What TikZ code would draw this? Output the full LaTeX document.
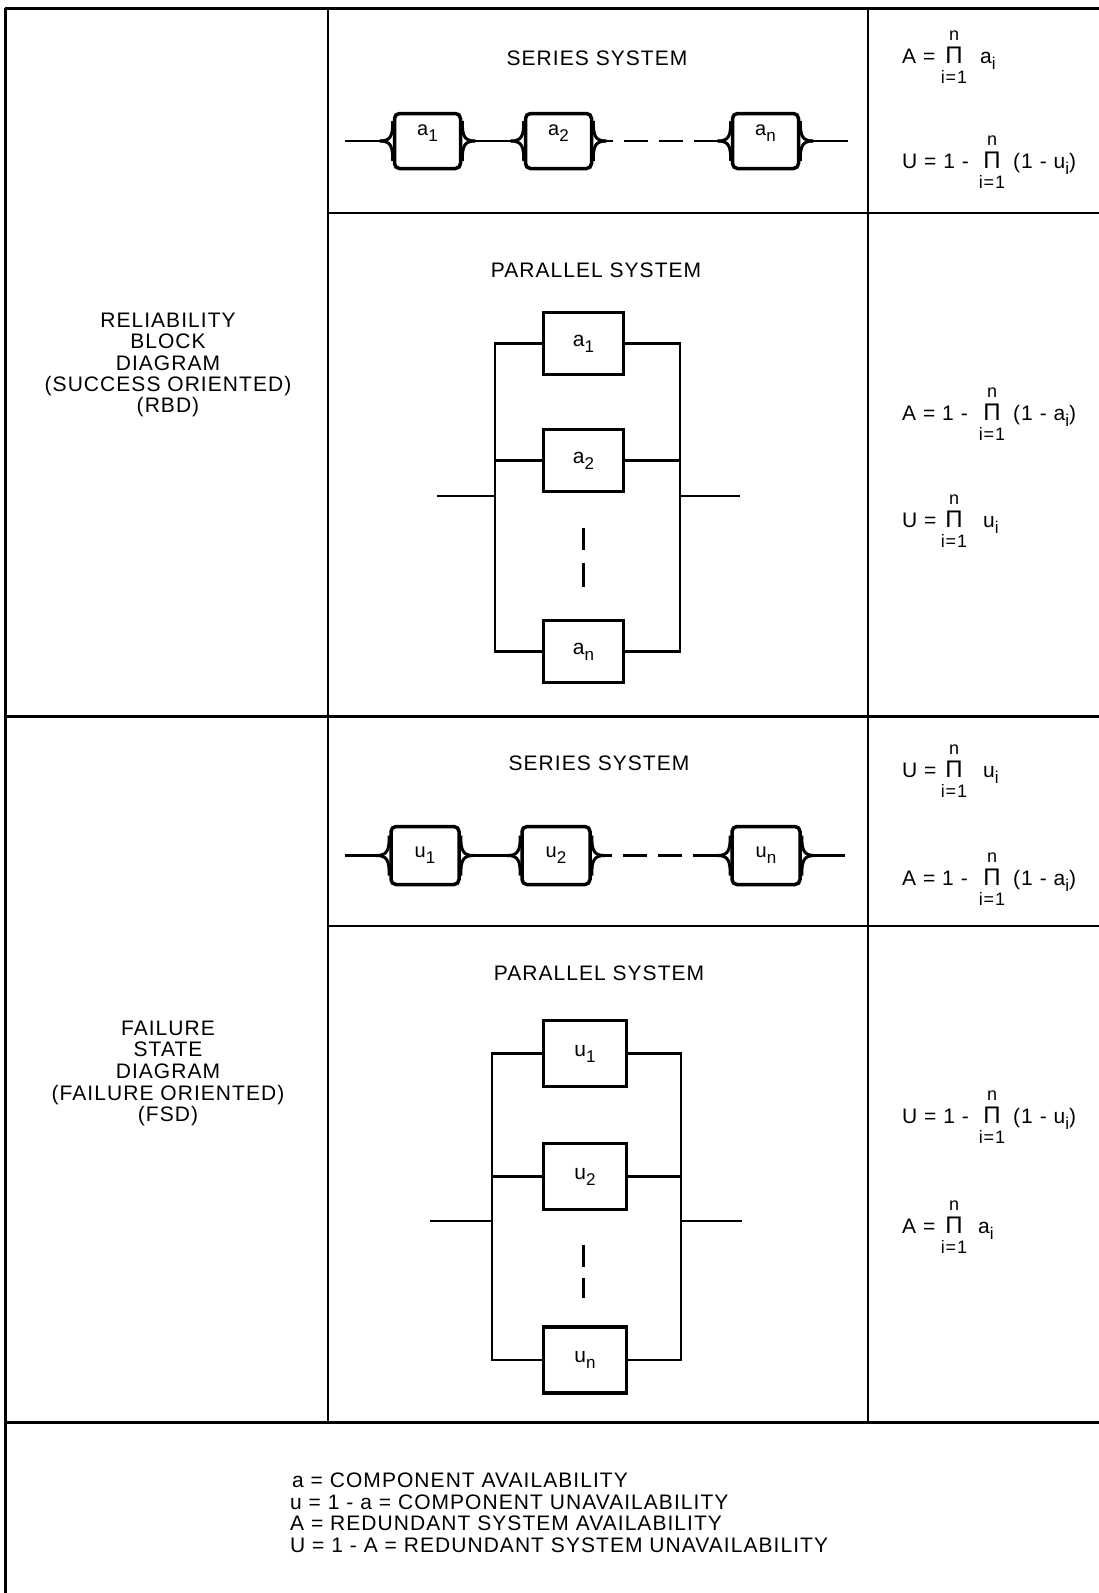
\documentclass[tikz,border=0pt]{standalone}
\usepackage{fontspec}
\setmainfont{Liberation Sans}[LetterSpace=5]
\usetikzlibrary{calc}
\newcommand\sz[1]{\fontsize{#1}{#1}\selectfont}
\newcommand\lo[1]{\raisebox{-6pt}{\sz{17}#1}}
\newcommand\flares[1]{%
  \draw[flare] ($(#1.west)+(-13,0)$) .. controls ($(#1.west)+(-2,0)$) and ($(#1.west)+(0,-5)$) .. ($(#1.west)+(0,-20)$);
  \draw[flare] ($(#1.west)+(-13,0)$) .. controls ($(#1.west)+(-2,0)$) and ($(#1.west)+(0,5)$) .. ($(#1.west)+(0,20)$);
  \draw[flare] ($(#1.east)+(13,0)$) .. controls ($(#1.east)+(2,0)$) and ($(#1.east)+(0,-5)$) .. ($(#1.east)+(0,-20)$);
  \draw[flare] ($(#1.east)+(13,0)$) .. controls ($(#1.east)+(2,0)$) and ($(#1.east)+(0,5)$) .. ($(#1.east)+(0,20)$);
}
% #1 name, #2 Pi centre x, #3 suffix x, #4 baseline y, #5 prefix, #6 suffix
\newcommand\fml[6]{%
  \node[ft, anchor=base west] (#1-p) at (902,#4) {#5};
  \node[pit, anchor=base] (#1-P) at (#2,#4) {Π};
  \node[lt, anchor=base] (#1-n) at ($(#1-P.base)+(0,-23)$) {n};
  \node[lt, anchor=base] (#1-i) at ($(#1-P.base)+(0,20)$) {i=1};
  \node[ft, anchor=base west] (#1-s) at (#3,#4) {#6};
}
\tikzset{
  frame/.style={line width=3pt},
  grid/.style={line width=2.5pt},
  txt/.style={inner sep=0pt, font=\sz{21}},
  ft/.style={inner sep=0pt, font=\sz{21}},
  pit/.style={inner sep=0pt, font=\sz{24}},
  lt/.style={inner sep=0pt, font=\sz{18}},
  sbox/.style={draw, line width=3.5pt, rounded corners=5pt, minimum width=66pt,
    minimum height=55pt, inner sep=0pt, font=\sz{20}},
  ubox/.style={draw, line width=3.5pt, rounded corners=5pt, minimum width=68pt,
    minimum height=58pt, inner sep=0pt, font=\sz{20}},
  pbox/.style={draw, line width=3.5pt, minimum width=80pt, minimum height=62pt,
    inner sep=0pt, font=\sz{21}},
  qbox/.style={draw, line width=3.5pt, minimum width=83pt, minimum height=66pt,
    inner sep=0pt, font=\sz{21}},
  wire/.style={line width=2.5pt},
  flare/.style={line width=3pt},
  vdash/.style={line width=3pt},
}
\begin{document}
\begin{tikzpicture}[x=1pt,y=-1pt]
\fill[white] (0,0) rectangle (1099,1593);
\useasboundingbox (0,0) rectangle (1099,1593);

% ---------- table ----------
\draw[frame] (5,8) -- (1099,8);
\draw[frame] (5,8) -- (5,1593);
\draw[grid] (328,8) -- (328,1422);
\draw[grid] (868,8) -- (868,1422);
\draw[frame] (5,716) -- (1099,716);
\draw[frame] (5,1422) -- (1099,1422);
\draw[grid] (328,213) -- (1099,213);
\draw[grid] (328,926) -- (1099,926);

% ---------- left column ----------
\node[txt, anchor=base] (l1) at (168,327) {RELIABILITY};
\node[txt, anchor=base] (l2) at (168,348) {BLOCK};
\node[txt, anchor=base] (l3) at (168,370) {DIAGRAM};
\node[txt, anchor=base] (l4) at (168,391) {(SUCCESS ORIENTED)};
\node[txt, anchor=base] (l5) at (168,412) {(RBD)};
\node[txt, anchor=base] (m1) at (168,1035) {FAILURE};
\node[txt, anchor=base] (m2) at (168,1056) {STATE};
\node[txt, anchor=base] (m3) at (168,1078) {DIAGRAM};
\node[txt, anchor=base] (m4) at (168,1100) {(FAILURE ORIENTED)};
\node[txt, anchor=base] (m5) at (168,1121) {(FSD)};

% ---------- titles ----------
\node[txt, anchor=base] (t1) at (597,65) {SERIES SYSTEM};
\node[txt, anchor=base] (t2) at (596,277) {PARALLEL SYSTEM};
\node[txt, anchor=base] (t3) at (599,770) {SERIES SYSTEM};
\node[txt, anchor=base] (t4) at (599,980) {PARALLEL SYSTEM};

% ---------- RBD series ----------
\node[sbox, text height=0pt, text depth=12pt] (sa1) at (427.5,141) {a\lo{1}};
\node[sbox, text height=0pt, text depth=12pt] (sa2) at (558.5,141) {a\lo{2}};
\node[sbox, text height=0pt, text depth=12pt] (san) at (765.5,141) {a\lo{n}};
\coordinate (sin) at (345,141);
\coordinate (sout) at (848,141);
\flares{sa1}\flares{sa2}\flares{san}
\draw[wire] (sin) -- ($(sa1.west)+(-13,0)$);
\draw[wire] ($(sa1.east)+(13,0)$) -- ($(sa2.west)+(-13,0)$);
\draw[wire, dash pattern=on 24pt off 11pt] ($(san.west)+(-13,0)$) -- ($(sa2.east)+(13,0)$);
\draw[wire] ($(san.east)+(13,0)$) -- (sout);

% ---------- RBD parallel ----------
\node[pbox] (pa1) at (583.5,343.5) {a\lo{1}};
\node[pbox] (pa2) at (583.5,460.5) {a\lo{2}};
\node[pbox] (pan) at (583.5,651.5) {a\lo{n}};
\coordinate (pLB) at (495,651.5);
\coordinate (pRB) at (680,651.5);
\coordinate (pin) at (437,496);
\coordinate (pout) at (740,496);
\draw[wire] (pa1.west) -| (pLB) -- (pan.west);
\draw[wire] (pa1.east) -| (pRB) -- (pan.east);
\draw[wire] (pa2.west) -- (pa2.west -| pLB);
\draw[wire] (pa2.east) -- (pa2.east -| pRB);
\draw[wire] (pin) -- (pin -| pLB);
\draw[wire] (pout) -- (pout -| pRB);
\draw[vdash] (583,528) -- (583,550);
\draw[vdash] (583,563) -- (583,587);

% ---------- FSD series ----------
\node[ubox] (su1) at (425,855.5) {u\lo{1}};
\node[ubox] (su2) at (556,855.5) {u\lo{2}};
\node[ubox] (sun) at (766,855.5) {u\lo{n}};
\coordinate (uin) at (345,855.5);
\coordinate (uout) at (845,855.5);
\flares{su1}\flares{su2}\flares{sun}
\draw[wire] (uin) -- ($(su1.west)+(-13,0)$);
\draw[wire] ($(su1.east)+(13,0)$) -- ($(su2.west)+(-13,0)$);
\draw[wire, dash pattern=on 24pt off 11pt] ($(sun.west)+(-13,0)$) -- ($(su2.east)+(13,0)$);
\draw[wire] ($(sun.east)+(13,0)$) -- (uout);

% ---------- FSD parallel ----------
\node[qbox] (pu1) at (585,1053.5) {u\lo{1}};
\node[qbox] (pu2) at (585,1176.5) {u\lo{2}};
\node[qbox] (pun) at (585,1360) {u\lo{n}};
\coordinate (qLB) at (492,1360);
\coordinate (qRB) at (681,1360);
\coordinate (qin) at (430,1221);
\coordinate (qout) at (742,1221);
\draw[wire] (pu1.west) -| (qLB) -- (pun.west);
\draw[wire] (pu1.east) -| (qRB) -- (pun.east);
\draw[wire] (pu2.west) -- (pu2.west -| qLB);
\draw[wire] (pu2.east) -- (pu2.east -| qRB);
\draw[wire] (qin) -- (qin -| qLB);
\draw[wire] (qout) -- (qout -| qRB);
\draw[vdash] (583,1245) -- (583,1267);
\draw[vdash] (583,1278) -- (583,1298);

% ---------- formulas ----------
\fml{r1}{954}{980}{63}{A =}{a\lo{i}}
\fml{r2}{992}{1013}{168}{U = 1 -}{(1 - u\lo{i})}
\fml{r3}{992}{1013}{420}{A = 1 -}{(1 - a\lo{i})}
\fml{r4}{954}{983}{527}{U =}{u\lo{i}}
\fml{f1}{954}{983}{777}{U =}{u\lo{i}}
\fml{f2}{992}{1013}{885}{A = 1 -}{(1 - a\lo{i})}
\fml{f3}{992}{1013}{1123}{U = 1 -}{(1 - u\lo{i})}
\fml{f4}{954}{978}{1233}{A =}{a\lo{i}}

% ---------- legend ----------
\node[txt, anchor=base west] (g1) at (292,1487) {a = COMPONENT AVAILABILITY};
\node[txt, anchor=base west] (g2) at (290,1509) {u = 1 - a = COMPONENT UNAVAILABILITY};
\node[txt, anchor=base west] (g3) at (290,1530) {A = REDUNDANT SYSTEM AVAILABILITY};
\node[txt, anchor=base west] (g4) at (290,1552) {U = 1 - A = REDUNDANT SYSTEM UNAVAILABILITY};
\end{tikzpicture}
\end{document}
